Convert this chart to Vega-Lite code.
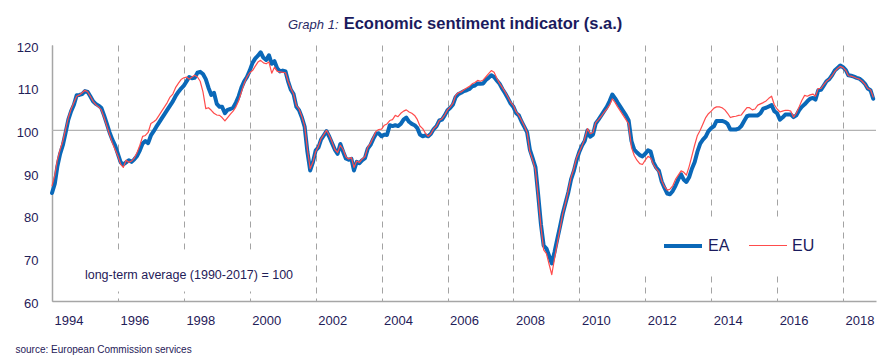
{
"$schema":"https://vega.github.io/schema/vega-lite/v6.json",
"width":824,"height":256,
"autosize":{"type":"none"},
"padding":{"left":52,"top":45,"right":19,"bottom":62},
"background":"white",
"config":{"view":{"stroke":null},"font":"Liberation Sans"},
"title":{"text":"Economic sentiment indicator (s.a.)","font":"Liberation Sans","fontSize":16.5,"fontWeight":"bold","color":"#1b1b5e","anchor":"middle","frame":"group","dx":19,"dy":42,"baseline":"alphabetic","offset":15},
"datasets":{"esi":[
{"d":"1994-01","EA":85.3,"EU":87.0},{"d":"1994-02","EA":87.5,"EU":89.5},{"d":"1994-03","EA":91.5,"EU":93.0},{"d":"1994-04","EA":94.5,"EU":95.5},{"d":"1994-05","EA":96.5,"EU":97.5},{"d":"1994-06","EA":99.5,"EU":100.3},{"d":"1994-07","EA":102.5,"EU":103.0},{"d":"1994-08","EA":104.5,"EU":105.0},{"d":"1994-09","EA":106.0,"EU":106.5},{"d":"1994-10","EA":108.2,"EU":108.0},{"d":"1994-11","EA":108.3,"EU":108.3},{"d":"1994-12","EA":108.5,"EU":108.8},
{"d":"1995-01","EA":109.2,"EU":109.4},{"d":"1995-02","EA":109.0,"EU":109.0},{"d":"1995-03","EA":108.0,"EU":108.0},{"d":"1995-04","EA":106.8,"EU":106.8},{"d":"1995-05","EA":106.2,"EU":106.0},{"d":"1995-06","EA":105.8,"EU":105.5},{"d":"1995-07","EA":105.3,"EU":104.8},{"d":"1995-08","EA":103.5,"EU":103.0},{"d":"1995-09","EA":101.5,"EU":101.0},{"d":"1995-10","EA":99.5,"EU":99.0},{"d":"1995-11","EA":97.8,"EU":97.0},{"d":"1995-12","EA":96.5,"EU":95.5},
{"d":"1996-01","EA":94.5,"EU":94.0},{"d":"1996-02","EA":92.5,"EU":92.0},{"d":"1996-03","EA":92.0,"EU":91.3},{"d":"1996-04","EA":92.5,"EU":93.0},{"d":"1996-05","EA":93.0,"EU":92.5},{"d":"1996-06","EA":92.6,"EU":92.8},{"d":"1996-07","EA":93.2,"EU":93.5},{"d":"1996-08","EA":94.0,"EU":94.8},{"d":"1996-09","EA":95.3,"EU":96.5},{"d":"1996-10","EA":96.9,"EU":98.6},{"d":"1996-11","EA":97.5,"EU":98.8},{"d":"1996-12","EA":97.0,"EU":99.5},
{"d":"1997-01","EA":98.8,"EU":101.6},{"d":"1997-02","EA":99.8,"EU":102.0},{"d":"1997-03","EA":100.8,"EU":102.5},{"d":"1997-04","EA":101.8,"EU":103.5},{"d":"1997-05","EA":102.8,"EU":104.5},{"d":"1997-06","EA":103.8,"EU":105.5},{"d":"1997-07","EA":104.8,"EU":106.5},{"d":"1997-08","EA":105.8,"EU":107.8},{"d":"1997-09","EA":106.8,"EU":108.5},{"d":"1997-10","EA":108.0,"EU":110.0},{"d":"1997-11","EA":109.0,"EU":111.0},{"d":"1997-12","EA":109.8,"EU":111.9},
{"d":"1998-01","EA":110.5,"EU":112.3},{"d":"1998-02","EA":111.5,"EU":112.5},{"d":"1998-03","EA":112.5,"EU":112.0},{"d":"1998-04","EA":112.2,"EU":112.5},{"d":"1998-05","EA":112.3,"EU":112.9},{"d":"1998-06","EA":113.5,"EU":112.5},{"d":"1998-07","EA":113.7,"EU":111.5},{"d":"1998-08","EA":113.2,"EU":109.0},{"d":"1998-09","EA":112.0,"EU":105.1},{"d":"1998-10","EA":110.0,"EU":105.3},{"d":"1998-11","EA":108.3,"EU":104.7},{"d":"1998-12","EA":108.8,"EU":104.0},
{"d":"1999-01","EA":106.2,"EU":103.6},{"d":"1999-02","EA":105.5,"EU":103.5},{"d":"1999-03","EA":105.5,"EU":103.0},{"d":"1999-04","EA":104.0,"EU":102.2},{"d":"1999-05","EA":104.8,"EU":103.0},{"d":"1999-06","EA":105.0,"EU":103.8},{"d":"1999-07","EA":105.3,"EU":104.5},{"d":"1999-08","EA":106.5,"EU":105.5},{"d":"1999-09","EA":108.0,"EU":107.0},{"d":"1999-10","EA":110.0,"EU":109.0},{"d":"1999-11","EA":111.5,"EU":111.0},{"d":"1999-12","EA":112.5,"EU":112.5},
{"d":"2000-01","EA":114.0,"EU":113.5},{"d":"2000-02","EA":115.8,"EU":114.0},{"d":"2000-03","EA":116.8,"EU":115.0},{"d":"2000-04","EA":117.5,"EU":116.0},{"d":"2000-05","EA":118.3,"EU":116.4},{"d":"2000-06","EA":117.0,"EU":115.8},{"d":"2000-07","EA":116.5,"EU":115.6},{"d":"2000-08","EA":117.6,"EU":116.0},{"d":"2000-09","EA":115.6,"EU":113.4},{"d":"2000-10","EA":116.2,"EU":114.8},{"d":"2000-11","EA":114.5,"EU":113.8},{"d":"2000-12","EA":113.8,"EU":113.7},
{"d":"2001-01","EA":114.0,"EU":113.6},{"d":"2001-02","EA":113.8,"EU":113.5},{"d":"2001-03","EA":111.5,"EU":111.5},{"d":"2001-04","EA":109.5,"EU":109.8},{"d":"2001-05","EA":108.5,"EU":108.5},{"d":"2001-06","EA":105.5,"EU":105.8},{"d":"2001-07","EA":104.7,"EU":105.0},{"d":"2001-08","EA":103.0,"EU":103.2},{"d":"2001-09","EA":100.8,"EU":101.0},{"d":"2001-10","EA":95.0,"EU":95.5},{"d":"2001-11","EA":90.6,"EU":91.0},{"d":"2001-12","EA":92.5,"EU":92.5},
{"d":"2002-01","EA":95.3,"EU":95.0},{"d":"2002-02","EA":96.0,"EU":96.3},{"d":"2002-03","EA":97.8,"EU":98.0},{"d":"2002-04","EA":98.8,"EU":99.0},{"d":"2002-05","EA":99.8,"EU":100.0},{"d":"2002-06","EA":98.5,"EU":98.8},{"d":"2002-07","EA":97.0,"EU":97.3},{"d":"2002-08","EA":95.5,"EU":95.5},{"d":"2002-09","EA":94.5,"EU":94.8},{"d":"2002-10","EA":96.8,"EU":96.5},{"d":"2002-11","EA":95.0,"EU":95.5},{"d":"2002-12","EA":93.4,"EU":93.8},
{"d":"2003-01","EA":93.1,"EU":93.3},{"d":"2003-02","EA":93.3,"EU":93.6},{"d":"2003-03","EA":90.6,"EU":91.3},{"d":"2003-04","EA":92.6,"EU":92.8},{"d":"2003-05","EA":92.3,"EU":92.5},{"d":"2003-06","EA":93.0,"EU":93.3},{"d":"2003-07","EA":93.5,"EU":93.8},{"d":"2003-08","EA":95.7,"EU":96.0},{"d":"2003-09","EA":96.6,"EU":97.0},{"d":"2003-10","EA":98.0,"EU":98.3},{"d":"2003-11","EA":99.2,"EU":99.8},{"d":"2003-12","EA":99.3,"EU":100.2},
{"d":"2004-01","EA":98.6,"EU":100.3},{"d":"2004-02","EA":99.0,"EU":101.2},{"d":"2004-03","EA":98.9,"EU":101.5},{"d":"2004-04","EA":101.2,"EU":102.3},{"d":"2004-05","EA":101.0,"EU":102.5},{"d":"2004-06","EA":101.2,"EU":103.5},{"d":"2004-07","EA":101.0,"EU":103.2},{"d":"2004-08","EA":101.5,"EU":104.0},{"d":"2004-09","EA":102.5,"EU":104.5},{"d":"2004-10","EA":103.0,"EU":104.8},{"d":"2004-11","EA":102.0,"EU":104.3},{"d":"2004-12","EA":101.5,"EU":104.0},
{"d":"2005-01","EA":101.2,"EU":103.5},{"d":"2005-02","EA":100.5,"EU":102.5},{"d":"2005-03","EA":99.0,"EU":101.0},{"d":"2005-04","EA":98.6,"EU":100.4},{"d":"2005-05","EA":98.8,"EU":99.3},{"d":"2005-06","EA":98.6,"EU":98.6},{"d":"2005-07","EA":99.2,"EU":99.2},{"d":"2005-08","EA":100.3,"EU":100.4},{"d":"2005-09","EA":101.0,"EU":101.0},{"d":"2005-10","EA":102.3,"EU":102.3},{"d":"2005-11","EA":102.5,"EU":102.7},{"d":"2005-12","EA":103.5,"EU":103.6},
{"d":"2006-01","EA":104.7,"EU":104.8},{"d":"2006-02","EA":105.3,"EU":105.5},{"d":"2006-03","EA":106.0,"EU":106.3},{"d":"2006-04","EA":107.8,"EU":108.2},{"d":"2006-05","EA":108.5,"EU":108.8},{"d":"2006-06","EA":108.8,"EU":109.0},{"d":"2006-07","EA":109.2,"EU":109.5},{"d":"2006-08","EA":109.4,"EU":109.9},{"d":"2006-09","EA":109.7,"EU":110.3},{"d":"2006-10","EA":110.3,"EU":110.9},{"d":"2006-11","EA":110.5,"EU":111.2},{"d":"2006-12","EA":111.0,"EU":111.7},
{"d":"2007-01","EA":110.9,"EU":111.5},{"d":"2007-02","EA":111.0,"EU":111.8},{"d":"2007-03","EA":111.8,"EU":112.5},{"d":"2007-04","EA":112.3,"EU":113.3},{"d":"2007-05","EA":112.9,"EU":114.0},{"d":"2007-06","EA":112.5,"EU":113.6},{"d":"2007-07","EA":111.7,"EU":112.2},{"d":"2007-08","EA":110.9,"EU":111.0},{"d":"2007-09","EA":109.7,"EU":110.0},{"d":"2007-10","EA":108.7,"EU":109.0},{"d":"2007-11","EA":107.5,"EU":107.8},{"d":"2007-12","EA":106.3,"EU":106.6},
{"d":"2008-01","EA":105.5,"EU":105.8},{"d":"2008-02","EA":104.0,"EU":104.3},{"d":"2008-03","EA":103.5,"EU":103.5},{"d":"2008-04","EA":102.0,"EU":102.3},{"d":"2008-05","EA":100.8,"EU":101.0},{"d":"2008-06","EA":99.5,"EU":99.5},{"d":"2008-07","EA":95.5,"EU":95.0},{"d":"2008-08","EA":93.5,"EU":93.0},{"d":"2008-09","EA":91.4,"EU":90.8},{"d":"2008-10","EA":85.0,"EU":84.5},{"d":"2008-11","EA":78.0,"EU":77.5},{"d":"2008-12","EA":73.0,"EU":72.0},
{"d":"2009-01","EA":72.3,"EU":71.1},{"d":"2009-02","EA":70.5,"EU":68.5},{"d":"2009-03","EA":68.8,"EU":66.2},{"d":"2009-04","EA":71.5,"EU":70.0},{"d":"2009-05","EA":74.5,"EU":73.5},{"d":"2009-06","EA":77.5,"EU":77.0},{"d":"2009-07","EA":80.5,"EU":80.5},{"d":"2009-08","EA":83.0,"EU":83.0},{"d":"2009-09","EA":85.5,"EU":86.0},{"d":"2009-10","EA":88.5,"EU":89.0},{"d":"2009-11","EA":90.5,"EU":91.0},{"d":"2009-12","EA":93.0,"EU":93.5},
{"d":"2010-01","EA":95.0,"EU":95.0},{"d":"2010-02","EA":96.5,"EU":96.5},{"d":"2010-03","EA":97.5,"EU":98.0},{"d":"2010-04","EA":100.0,"EU":100.4},{"d":"2010-05","EA":98.5,"EU":99.2},{"d":"2010-06","EA":99.0,"EU":99.5},{"d":"2010-07","EA":101.6,"EU":101.8},{"d":"2010-08","EA":102.5,"EU":102.5},{"d":"2010-09","EA":103.5,"EU":103.3},{"d":"2010-10","EA":104.5,"EU":104.2},{"d":"2010-11","EA":105.5,"EU":105.0},{"d":"2010-12","EA":106.8,"EU":105.9},
{"d":"2011-01","EA":108.4,"EU":107.4},{"d":"2011-02","EA":107.5,"EU":106.5},{"d":"2011-03","EA":106.5,"EU":105.5},{"d":"2011-04","EA":105.5,"EU":104.5},{"d":"2011-05","EA":104.5,"EU":103.5},{"d":"2011-06","EA":103.5,"EU":102.5},{"d":"2011-07","EA":102.3,"EU":101.5},{"d":"2011-08","EA":97.5,"EU":96.0},{"d":"2011-09","EA":95.5,"EU":94.1},{"d":"2011-10","EA":94.8,"EU":93.0},{"d":"2011-11","EA":94.2,"EU":92.2},{"d":"2011-12","EA":93.9,"EU":92.0},
{"d":"2012-01","EA":94.5,"EU":93.0},{"d":"2012-02","EA":95.3,"EU":93.9},{"d":"2012-03","EA":95.0,"EU":93.5},{"d":"2012-04","EA":92.5,"EU":92.0},{"d":"2012-05","EA":91.3,"EU":91.0},{"d":"2012-06","EA":90.5,"EU":90.2},{"d":"2012-07","EA":88.0,"EU":88.2},{"d":"2012-08","EA":86.5,"EU":86.8},{"d":"2012-09","EA":85.2,"EU":86.0},{"d":"2012-10","EA":85.0,"EU":86.2},{"d":"2012-11","EA":85.8,"EU":87.0},{"d":"2012-12","EA":87.0,"EU":88.5},
{"d":"2013-01","EA":88.5,"EU":89.5},{"d":"2013-02","EA":89.7,"EU":90.5},{"d":"2013-03","EA":88.5,"EU":90.2},{"d":"2013-04","EA":87.9,"EU":89.5},{"d":"2013-05","EA":89.0,"EU":91.5},{"d":"2013-06","EA":91.0,"EU":94.0},{"d":"2013-07","EA":92.5,"EU":96.5},{"d":"2013-08","EA":95.0,"EU":98.8},{"d":"2013-09","EA":96.9,"EU":100.0},{"d":"2013-10","EA":97.8,"EU":101.5},{"d":"2013-11","EA":98.5,"EU":103.0},{"d":"2013-12","EA":99.8,"EU":103.9},
{"d":"2014-01","EA":100.5,"EU":104.5},{"d":"2014-02","EA":101.0,"EU":105.2},{"d":"2014-03","EA":102.2,"EU":105.5},{"d":"2014-04","EA":102.2,"EU":105.5},{"d":"2014-05","EA":102.2,"EU":105.3},{"d":"2014-06","EA":102.0,"EU":104.8},{"d":"2014-07","EA":101.5,"EU":104.0},{"d":"2014-08","EA":100.2,"EU":103.0},{"d":"2014-09","EA":100.2,"EU":103.2},{"d":"2014-10","EA":100.2,"EU":103.3},{"d":"2014-11","EA":100.4,"EU":103.5},{"d":"2014-12","EA":101.0,"EU":103.6},
{"d":"2015-01","EA":102.2,"EU":104.5},{"d":"2015-02","EA":103.3,"EU":105.3},{"d":"2015-03","EA":103.5,"EU":105.3},{"d":"2015-04","EA":103.5,"EU":104.8},{"d":"2015-05","EA":103.5,"EU":105.0},{"d":"2015-06","EA":103.5,"EU":105.9},{"d":"2015-07","EA":104.0,"EU":106.2},{"d":"2015-08","EA":105.1,"EU":106.5},{"d":"2015-09","EA":105.3,"EU":106.9},{"d":"2015-10","EA":105.6,"EU":107.5},{"d":"2015-11","EA":105.9,"EU":108.0},{"d":"2015-12","EA":104.5,"EU":106.0},
{"d":"2016-01","EA":104.0,"EU":105.0},{"d":"2016-02","EA":102.5,"EU":104.3},{"d":"2016-03","EA":103.0,"EU":104.5},{"d":"2016-04","EA":103.7,"EU":104.7},{"d":"2016-05","EA":103.7,"EU":104.7},{"d":"2016-06","EA":103.7,"EU":104.5},{"d":"2016-07","EA":103.1,"EU":103.1},{"d":"2016-08","EA":103.5,"EU":104.0},{"d":"2016-09","EA":104.7,"EU":105.5},{"d":"2016-10","EA":105.5,"EU":107.0},{"d":"2016-11","EA":106.1,"EU":108.2},{"d":"2016-12","EA":106.8,"EU":108.0},
{"d":"2017-01","EA":107.4,"EU":108.3},{"d":"2017-02","EA":107.6,"EU":108.5},{"d":"2017-03","EA":107.2,"EU":108.0},{"d":"2017-04","EA":109.4,"EU":109.8},{"d":"2017-05","EA":109.5,"EU":109.8},{"d":"2017-06","EA":110.5,"EU":110.7},{"d":"2017-07","EA":111.5,"EU":111.5},{"d":"2017-08","EA":112.0,"EU":112.0},{"d":"2017-09","EA":112.9,"EU":112.8},{"d":"2017-10","EA":114.0,"EU":113.8},{"d":"2017-11","EA":114.6,"EU":114.5},{"d":"2017-12","EA":115.2,"EU":115.0},
{"d":"2018-01","EA":114.8,"EU":114.7},{"d":"2018-02","EA":114.1,"EU":114.0},{"d":"2018-03","EA":112.9,"EU":112.8},{"d":"2018-04","EA":112.8,"EU":112.7},{"d":"2018-05","EA":112.6,"EU":112.5},{"d":"2018-06","EA":112.3,"EU":112.2},{"d":"2018-07","EA":112.1,"EU":112.0},{"d":"2018-08","EA":111.6,"EU":111.5},{"d":"2018-09","EA":110.9,"EU":110.8},{"d":"2018-10","EA":109.8,"EU":109.8},{"d":"2018-11","EA":109.4,"EU":109.5},{"d":"2018-12","EA":107.4,"EU":107.8}
]},
"layer":[
{"data":{"values":[{}]},
 "mark":{"type":"rule","color":"#b3b3b3","strokeWidth":1.3},
 "encoding":{"y":{"datum":100,"type":"quantitative"}}},
{"data":{"values":[{}]},
 "mark":{"type":"rect","fill":"white"},
 "encoding":{
  "x":{"datum":{"year":1994,"month":9,"date":1,"utc":true},"type":"temporal"},
  "x2":{"datum":{"year":2001,"month":7,"date":1,"utc":true}},
  "y":{"datum":72,"type":"quantitative"},
  "y2":{"datum":62.2}}},
{"data":{"values":[{}]},
 "mark":{"type":"rect","fill":"white"},
 "encoding":{
  "x":{"datum":{"year":2011,"month":5,"date":1,"utc":true},"type":"temporal"},
  "x2":{"datum":{"year":2017,"month":8,"date":1,"utc":true}},
  "y":{"datum":79,"type":"quantitative"},
  "y2":{"datum":66.5}}},
{"data":{"name":"esi","format":{"parse":{"d":"utc:'%Y-%m'"}}},
 "transform":[{"fold":["EA","EU"],"as":["series","value"]}],
 "mark":{"type":"line","strokeJoin":"round","strokeCap":"round"},
 "encoding":{
  "x":{"field":"d","type":"temporal",
   "scale":{"type":"utc","domain":[{"year":1994,"month":1,"date":1,"utc":true},{"year":2019,"month":1,"date":1,"utc":true}]},
   "axis":{"values":[
     {"year":1994,"month":1,"date":1,"utc":true},{"year":1995,"month":1,"date":1,"utc":true},{"year":1996,"month":1,"date":1,"utc":true},{"year":1997,"month":1,"date":1,"utc":true},{"year":1998,"month":1,"date":1,"utc":true},{"year":1999,"month":1,"date":1,"utc":true},{"year":2000,"month":1,"date":1,"utc":true},{"year":2001,"month":1,"date":1,"utc":true},{"year":2002,"month":1,"date":1,"utc":true},{"year":2003,"month":1,"date":1,"utc":true},{"year":2004,"month":1,"date":1,"utc":true},{"year":2005,"month":1,"date":1,"utc":true},{"year":2006,"month":1,"date":1,"utc":true},{"year":2007,"month":1,"date":1,"utc":true},{"year":2008,"month":1,"date":1,"utc":true},{"year":2009,"month":1,"date":1,"utc":true},{"year":2010,"month":1,"date":1,"utc":true},{"year":2011,"month":1,"date":1,"utc":true},{"year":2012,"month":1,"date":1,"utc":true},{"year":2013,"month":1,"date":1,"utc":true},{"year":2014,"month":1,"date":1,"utc":true},{"year":2015,"month":1,"date":1,"utc":true},{"year":2016,"month":1,"date":1,"utc":true},{"year":2017,"month":1,"date":1,"utc":true},{"year":2018,"month":1,"date":1,"utc":true},{"year":2019,"month":1,"date":1,"utc":true}],
    "grid":true,"gridColor":"#a3a3a3","gridDash":[6,5],"gridWidth":1,
    "ticks":false,"tickSize":0,
    "domainColor":"#a6a6a6","domainWidth":1.5,
    "labelExpr":"utcyear(datum.value) % 2 == 0 && utcyear(datum.value) < 2019 ? utcFormat(datum.value, '%Y') : ''",
    "labelOffset":16.5,"labelPadding":13,"labelFlush":false,"labelOverlap":false,
    "labelFont":"Liberation Sans","labelFontSize":13,"labelColor":"#1f2058",
    "title":"source: European Commission services","titleFont":"Liberation Sans","titleFontSize":10,"titleFontWeight":"normal","titleColor":"#1f2058",
    "titleX":-37,"titleY":51,"titleAlign":"left","titleAnchor":"start","titleBaseline":"alphabetic"}},
  "y":{"field":"value","type":"quantitative",
   "scale":{"domain":[60,120],"nice":false,"zero":false},
   "axis":{"values":[60,70,80,90,100,110,120],"grid":false,"ticks":false,"tickSize":0,
    "domainColor":"#a6a6a6","domainWidth":1.5,
    "labelPadding":14,"labelOffset":2,"labelFlush":false,
    "labelFont":"Liberation Sans","labelFontSize":13,"labelColor":"#1f2058",
    "title":"Graph 1:","titleAngle":0,"titleX":286,"titleY":-17,"titleAlign":"right","titleBaseline":"alphabetic",
    "titleFont":"Liberation Sans","titleFontStyle":"italic","titleFontWeight":"normal","titleFontSize":13,"titleColor":"#2a2a66"}},
  "color":{"field":"series","type":"nominal",
   "scale":{"domain":["EA","EU"],"range":["#0a68b8","#ff4c4c"]},
   "legend":{"title":null,"orient":"none","legendX":610,"legendY":180,"direction":"horizontal","symbolType":"stroke","symbolSize":1444,"labelFont":"Liberation Sans","labelFontSize":16,"labelColor":"#1b1b5e","labelOffset":4,"columnPadding":16,"padding":0}},
  "strokeWidth":{"field":"series","type":"nominal",
   "scale":{"domain":["EA","EU"],"range":[4,1.2]},
   "legend":{"title":null,"orient":"none","legendX":610,"legendY":180,"direction":"horizontal","symbolType":"stroke","symbolSize":1444,"labelFont":"Liberation Sans","labelFontSize":16,"labelColor":"#1b1b5e","labelOffset":4,"columnPadding":16,"padding":0}}
 }},
{"data":{"values":[{}]},
 "mark":{"type":"text","text":"long-term average (1990-2017) = 100","align":"left","baseline":"middle","font":"Liberation Sans","fontSize":12.5,"color":"#1f2058"},
 "encoding":{
  "x":{"datum":{"year":1995,"month":1,"date":1,"utc":true},"type":"temporal"},
  "y":{"datum":66,"type":"quantitative"}}}
]
}
